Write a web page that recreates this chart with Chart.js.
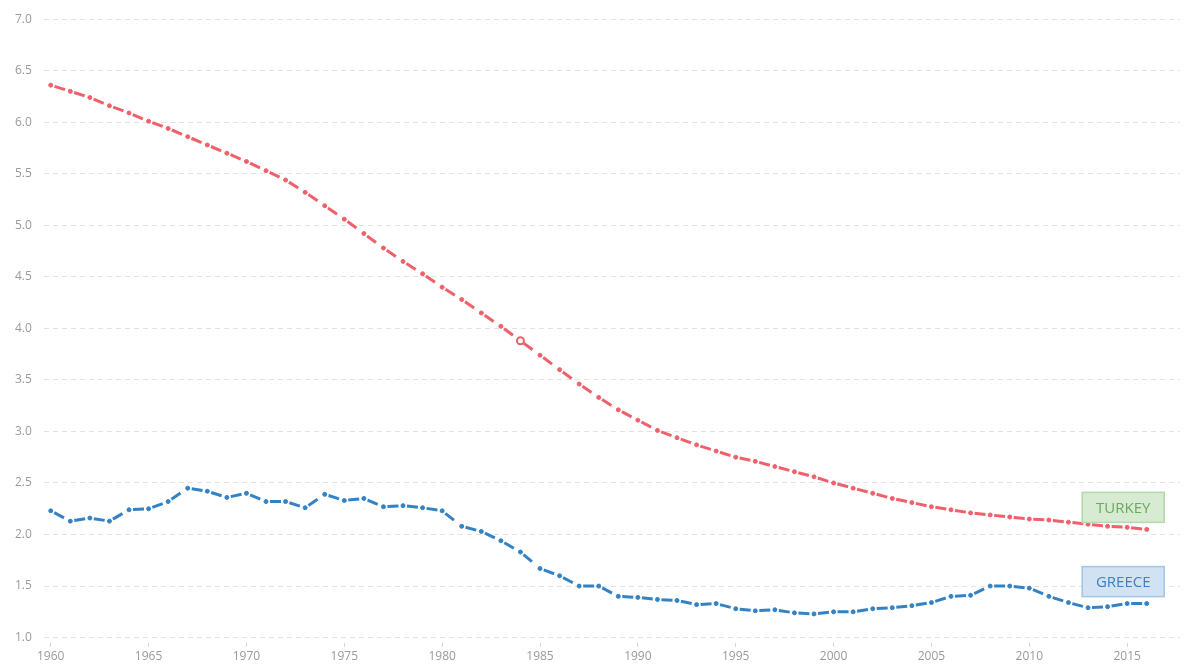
<!DOCTYPE html>
<html>
<head>
<meta charset="utf-8">
<script src="https://cdn.jsdelivr.net/npm/chart.js@4"></script>
<style>
  html, body { margin: 0; padding: 0; background: #fff; }
  #wrap { width: 1192px; height: 670px; position: relative; }
</style>
</head>
<body>
<div id="wrap"><canvas id="chartFertility"></canvas></div>
<script>
// --- data ---
const years = [1960, 1961, 1962, 1963, 1964, 1965, 1966, 1967, 1968, 1969,
               1970, 1971, 1972, 1973, 1974, 1975, 1976, 1977, 1978, 1979,
               1980, 1981, 1982, 1983, 1984, 1985, 1986, 1987, 1988, 1989,
               1990, 1991, 1992, 1993, 1994, 1995, 1996, 1997, 1998, 1999,
               2000, 2001, 2002, 2003, 2004, 2005, 2006, 2007, 2008, 2009,
               2010, 2011, 2012, 2013, 2014, 2015, 2016];

const turkey = [6.36, 6.30, 6.24, 6.16, 6.09, 6.01, 5.94, 5.86, 5.78, 5.70,
                5.62, 5.53, 5.44, 5.32, 5.19, 5.06, 4.92, 4.78, 4.65, 4.53,
                4.40, 4.28, 4.15, 4.02, 3.88, 3.74, 3.60, 3.46, 3.33, 3.21,
                3.11, 3.01, 2.94, 2.87, 2.81, 2.75, 2.71, 2.66, 2.61, 2.56,
                2.50, 2.45, 2.40, 2.35, 2.31, 2.27, 2.24, 2.21, 2.19, 2.17,
                2.15, 2.14, 2.12, 2.10, 2.08, 2.07, 2.05];

const greece = [2.23, 2.13, 2.16, 2.13, 2.24, 2.25, 2.32, 2.45, 2.42, 2.36,
                2.40, 2.32, 2.32, 2.26, 2.39, 2.33, 2.35, 2.27, 2.28, 2.26,
                2.23, 2.08, 2.03, 1.94, 1.83, 1.67, 1.60, 1.50, 1.50, 1.40,
                1.39, 1.37, 1.36, 1.32, 1.33, 1.28, 1.26, 1.27, 1.24, 1.23,
                1.25, 1.25, 1.28, 1.29, 1.31, 1.34, 1.40, 1.41, 1.50, 1.50,
                1.48, 1.40, 1.34, 1.29, 1.30, 1.33, 1.33];

const seriesNames = ['TURKEY', 'GREECE'];
const highlightYear = 1984;   // open marker on the Turkey line

const RED = '#f0606a';
const BLUE = '#3382c4';

// dash between two points: small gap, short dash, rest gap (restart each segment)
const dashSegment = {
    borderDashOffset: c => 47 + (c.p0DataIndex % 2) * 51
};

// boxes with the series names at the right end of each line
const endLabels = {
    id: 'endLabels',
    afterDatasetsDraw(chart) {
        const {ctx, scales: {x, y}} = chart;
        const styles = [
            {fill: '#d7ebd3', stroke: '#b3d9ad', text: '#6aa862'},
            {fill: '#d1e3f2', stroke: '#a2c6e5', text: '#3a80c2'}
        ];
        chart.data.datasets.forEach((ds, i) => {
            const last = ds.data[ds.data.length - 1];
            const right = x.getPixelForValue(last.x) + 18;
            const cy = y.getPixelForValue(last.y) - 22;
            const w = 83, h = 31;
            const s = styles[i];
            ctx.save();
            ctx.fillStyle = s.fill;
            ctx.strokeStyle = s.stroke;
            ctx.lineWidth = 1.5;
            ctx.fillRect(right - w, cy - h / 2, w, h);
            ctx.strokeRect(right - w + 0.5, cy - h / 2 + 0.5, w - 1, h - 1);
            ctx.fillStyle = s.text;
            ctx.font = '15px "Open Sans", sans-serif';
            ctx.textAlign = 'center';
            ctx.textBaseline = 'middle';
            ctx.fillText(seriesNames[i], right - w / 2, cy + 1);
            ctx.restore();
        });
    }
};

const ctxFert = document.getElementById('chartFertility').getContext('2d');
new Chart(ctxFert, {
    type: 'line',
    data: {
        datasets: [{
            label: seriesNames[0],
            data: years.map((yr, i) => ({x: yr, y: turkey[i]})),
            borderColor: RED,
            borderWidth: 3,
            borderDash: [11, 40],
            segment: dashSegment,
            pointRadius: c => years[c.dataIndex] === highlightYear ? 3.5 : 2,
            pointBorderWidth: c => years[c.dataIndex] === highlightYear ? 2 : 1,
            pointBackgroundColor: c => years[c.dataIndex] === highlightYear ? '#fff' : RED,
            pointBorderColor: RED,
            tension: 0,
            fill: false
        }, {
            label: seriesNames[1],
            data: years.map((yr, i) => ({x: yr, y: greece[i]})),
            borderColor: BLUE,
            borderWidth: 3,
            borderDash: [11, 40],
            segment: dashSegment,
            pointRadius: 2,
            pointBorderWidth: 1,
            pointBackgroundColor: BLUE,
            pointBorderColor: BLUE,
            tension: 0,
            fill: false
        }]
    },
    options: {
        responsive: true,
        maintainAspectRatio: false,
        animation: false,
        layout: { padding: { top: 6, right: 12, left: 3, bottom: 4 } },
        plugins: {
            legend: { display: false },
            tooltip: { enabled: false }
        },
        scales: {
            x: {
                type: 'linear',
                min: 1959.65,
                max: 2017.7,
                border: { display: false },
                grid: {
                    drawOnChartArea: false,
                    drawTicks: true,
                    tickLength: 10,
                    tickColor: '#d6d6d6',
                    tickBorderDash: [0, 5, 4, 30]
                },
                ticks: {
                    stepSize: 5,
                    includeBounds: false,
                    maxRotation: 0,
                    color: '#9a9a9a',
                    font: { family: '"Open Sans", sans-serif', size: 12 },
                    padding: 2,
                    callback: v => String(v)
                }
            },
            y: {
                min: 1,
                max: 7,
                border: { display: false, dash: [5, 4] },
                grid: {
                    color: '#e2e2e2',
                    drawTicks: false
                },
                ticks: {
                    stepSize: 0.5,
                    color: '#9a9a9a',
                    font: { family: '"Open Sans", sans-serif', size: 12 },
                    padding: 12,
                    callback: v => v.toFixed(1)
                }
            }
        }
    },
    plugins: [endLabels]
});
</script>
</body>
</html>
